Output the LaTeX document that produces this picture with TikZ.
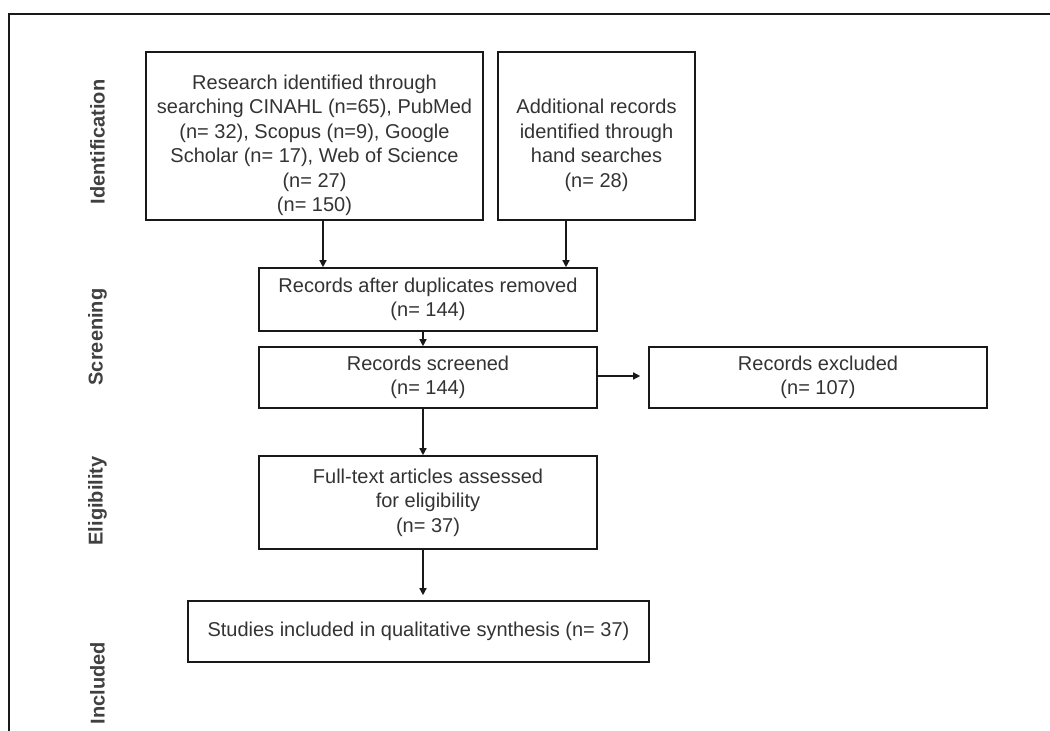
\documentclass[tikz,border=0pt]{standalone}
\usepackage{fontspec}
\setmainfont{Liberation Sans}
\usepackage{tikz}
\usetikzlibrary{arrows.meta,calc}
\tikzset{
  >={Triangle[length=7pt,width=7pt]},
  bx/.style={rectangle,draw=black!90,line width=1.6pt,align=center,inner sep=2pt,text=black!80,
    font=\fontsize{20}{24.5}\selectfont},
  lab/.style={rotate=90,font=\fontsize{20}{24}\selectfont\bfseries,text=black!75},
  ar/.style={->,line width=1.4pt,draw=black!90},
  every picture/.style={line width=0.5pt},
}
\newcommand{\topgap}{\rule{0pt}{33pt}}
\begin{document}
\begin{tikzpicture}[x=1pt,y=-1pt]
\useasboundingbox (0,0) rectangle (1050,731);
\draw[line width=1.8pt,black!90] (1050,14) -- (9,14) -- (9,731);
\node[lab] (li) at (97.5,142){Identification}; \node[lab] (ls) at (97.5,337){Screening};
\node[lab] (le) at (97.5,501){Eligibility}; \node[lab] (lc) at (97.5,683){Included};
\node[bx,minimum width=337pt,minimum height=168pt] (A) at (314.5,136){\topgap Research identified through\\searching CINAHL (n=65), PubMed\\(n= 32), Scopus (n=9), Google\\Scholar (n= 17), Web of Science\\(n= 27)\\(n= 150)};
\node[bx,minimum width=197pt,minimum height=168pt] (B) at (596.5,136){\topgap Additional records\\identified through\\hand searches\\(n= 28)};
\node[bx,minimum width=338pt,minimum height=63pt] (C) at (428,299.5){Records after duplicates removed\\(n= 144)};
\node[bx,minimum width=338pt,minimum height=61pt] (D) at (428,377.5){Records screened\\(n= 144)};
\node[bx,minimum width=338pt,minimum height=61pt] (E) at (818,377.5){Records excluded\\(n= 107)};
\node[bx,minimum width=338pt,minimum height=93pt] (F) at (428,502.5){Full-text articles assessed\\for eligibility\\(n= 37)};
\node[bx,minimum width=461pt,minimum height=61pt] (G) at (418.5,631.5){Studies included in qualitative synthesis (n= 37)};
\draw[ar] ([xshift=8.5pt]A.south) -- ([xshift=8.5pt]A.south |- C.north);
\draw[ar] ([xshift=-30.5pt]B.south) -- ([xshift=-30.5pt]B.south |- C.north);
\draw[ar] ([xshift=-5pt]C.south) -- ([xshift=-5pt]D.north);
\draw[ar] ([xshift=-5pt]D.south) -- ([xshift=-5pt]F.north);
\draw[ar,shorten >=5pt] ([xshift=-5pt]F.south) -- ([xshift=-5pt]F.south |- G.north);
\draw[ar,shorten >=8pt] ([yshift=1.5pt]D.east) -- ([yshift=1.5pt]E.west);
\end{tikzpicture}
\end{document}
